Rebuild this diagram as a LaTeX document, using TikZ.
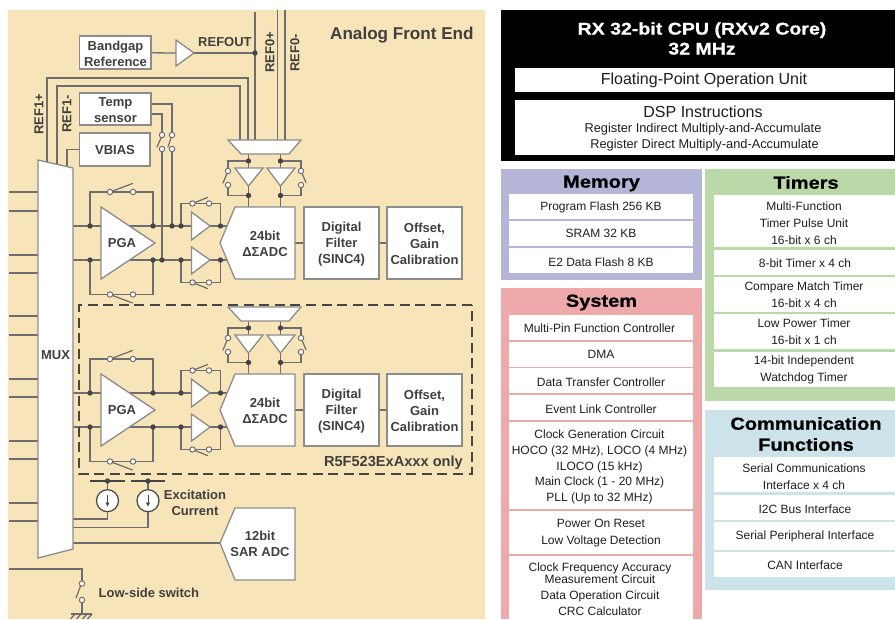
\documentclass[tikz,border=0pt]{standalone}
\usepackage{fontspec}
\setmainfont{Liberation Sans}
\newfontfamily\ttl[FakeStretch=1.15,FakeBold=0.8]{Liberation Sans Bold}
\usetikzlibrary{arrows.meta}
\pgfdeclarelayer{bg}\pgfdeclarelayer{wires}\pgfsetlayers{bg,wires,main}
\definecolor{beige}{HTML}{F7E4B8}
\definecolor{wirec}{HTML}{6E6E6E}
\definecolor{edgec}{HTML}{8C8C8C}
\definecolor{dotc}{HTML}{454545}
\definecolor{labc}{HTML}{404040}
\definecolor{memc}{HTML}{B5B5D8}
\definecolor{sysc}{HTML}{EEAAAA}
\definecolor{timc}{HTML}{BBD8A9}
\definecolor{comc}{HTML}{CCE3EA}
\newcommand\fsz[1]{\fontsize{#1}{#1}\selectfont}
\tikzset{
  wire/.style={draw=wirec,line width=1.3pt},
  blade/.style={draw=wirec,line width=1.2pt,line cap=round},
  shp/.style={draw=edgec,fill=white,line width=1.3pt,line join=miter},
  lab/.style={text=labc,font=\fsz{13}\bfseries,align=center,inner sep=0pt},
  jn/.style={circle,fill=dotc,inner sep=0pt,minimum size=5.4pt},
  sw/.style={circle,draw=wirec,fill=white,line width=1pt,inner sep=0pt,minimum size=5.4pt},
  ptxt/.style={text=black!88,font=\fsz{12},align=center,inner sep=0pt},
  ttxt/.style={text=black,font=\ttl\fsz{17.4},align=center,inner sep=0pt},
}
% named rectangle from corners
\newcommand\rectnode[7][]{%
  \pgfmathsetmacro\rw{#5-#3}\pgfmathsetmacro\rh{#6-#4}%
  \pgfmathsetmacro\rcx{(#3+#5)/2}\pgfmathsetmacro\rcy{(#4+#6)/2}%
  \node[inner sep=0pt,outer sep=0pt,minimum width=\rw pt,minimum height=\rh pt,#1] (#2) at (\rcx,\rcy) {#7};}
% white panel cell with a text at its own position
\newcommand\cell[8]{%
  \rectnode[fill=white]{#1}{#2}{#3}{#4}{#5}{}%
  \node[ptxt] (#1t) at (#6,#7) {#8};}
% one ADC channel
\newcommand\adcchannel[2]{%
\begin{scope}[shift={(0,#2)}]
  % junctions
  \node[jn] (#1ja) at (90,226) {}; \node[jn] (#1jb) at (153,226) {}; \node[jn] (#1jc) at (181,226) {}; \node[jn] (#1jd) at (220.5,226) {};
  \node[jn] (#1je) at (90,260) {}; \node[jn] (#1jf) at (153,260) {}; \node[jn] (#1jg) at (181,260) {}; \node[jn] (#1jh) at (220.5,260) {};
  \node[jn] (#1ji) at (248.5,161) {}; \node[jn] (#1jj) at (280.5,161) {}; \node[jn] (#1jk) at (248.5,195.5) {}; \node[jn] (#1jl) at (280.5,195.5) {};
  % switch contacts
  \node[sw] (#1s1) at (110,192) {}; \node[sw] (#1s2) at (133,192) {};
  \node[sw] (#1s3) at (110,294.5) {}; \node[sw] (#1s4) at (133,294.5) {};
  \node[sw] (#1s5) at (192.5,203.5) {}; \node[sw] (#1s6) at (209,203.5) {};
  \node[sw] (#1s7) at (192.5,282.5) {}; \node[sw] (#1s8) at (209,282.5) {};
  \node[sw] (#1s9) at (228,171) {}; \node[sw] (#1s10) at (228,185) {};
  \node[sw] (#1s11) at (301,171) {}; \node[sw] (#1s12) at (301,185) {};
  % wire ends
  \coordinate (#1mi) at (73,226); \coordinate (#1mj) at (73,260);
  \coordinate (#1ai) at (229,226); \coordinate (#1aj) at (229,260);
  \coordinate (#1at) at (248.5,207); \coordinate (#1au) at (280.5,207);
  \coordinate (#1mt) at (248.5,154); \coordinate (#1mu) at (280.5,154);
  % shapes
  \draw[shp] (228,140) -- (301,140) -- (289,154) -- (241,154) -- cycle;
  \draw[shp] (101,207) -- (101,279) -- (155,243) -- cycle;
  \draw[shp] (191.5,212) -- (191.5,240) -- (210,226) -- cycle;
  \draw[shp] (191.5,247) -- (191.5,274) -- (210,260) -- cycle;
  \draw[shp] (235,168) -- (263,168) -- (248.5,186) -- cycle;
  \draw[shp] (267,168) -- (295,168) -- (280.5,186) -- cycle;
  \draw[shp] (235,207) -- (295,207) -- (295,279) -- (235,279) -- (220,243) -- cycle;
  \node[lab] (#1pga) at (122,243.5) {PGA};
  \node[lab] (#1adc) at (265,243.5) {24bit\\[3pt]ΔΣADC};
  \coordinate (#1ao) at (295,243);
  \rectnode[shp]{#1fil}{304}{207}{379}{279}{}
  \rectnode[shp]{#1cal}{387}{207}{462}{279}{}
  \node[lab] (#1filt) at (341.5,244) {Digital\\[3pt]Filter\\[3pt](SINC4)};
  \node[lab] (#1calt) at (424.5,244) {Offset,\\[3pt]Gain\\[3pt]Calibration};
  % wires
  \begin{pgfonlayer}{wires}
    \draw[wire] (#1mi) -- (#1ai);
    \draw[wire] (#1mj) -- (#1aj);
    \draw[wire] (#1ja.center) |- (#1s1.center) -- (#1s2.center) -| (#1jb.center);
    \draw[wire] (#1je.center) |- (#1s3.center) -- (#1s4.center) -| (#1jf.center);
    \draw[wire] (#1jc.center) |- (#1s5.center) -- (#1s6.center) -| (#1jd.center);
    \draw[wire] (#1jg.center) |- (#1s7.center) -- (#1s8.center) -| (#1jh.center);
    \draw[wire] (#1mt) -- (#1at);
    \draw[wire] (#1mu) -- (#1au);
    \draw[wire] (#1ji.center) -| (#1s9.center);
    \draw[wire] (#1s10.center) |- (#1jk.center);
    \draw[wire] (#1jj.center) -| (#1s11.center);
    \draw[wire] (#1s12.center) |- (#1jl.center);
    \draw[wire] (#1ao) -- (#1fil);
    \draw[wire] (#1fil) -- (#1cal);
  \end{pgfonlayer}
  % blades
  \draw[blade] (#1s1) -- (132.5,183.5);
  \draw[blade] (#1s3) -- (132.5,303);
  \draw[blade] (#1s5) -- (207.5,197.5);
  \draw[blade] (#1s7) -- (207.5,288.5);
  \draw[blade] (#1s9) -- (223,183);
  \draw[blade] (#1s11) -- (306,182.5);
\end{scope}}
\begin{document}
\begin{tikzpicture}[x=1pt,y=-1pt]
\useasboundingbox (0,0) rectangle (895,619);
\begin{pgfonlayer}{bg}
  \fill[beige] (8,10) rectangle (485,619);
\end{pgfonlayer}
% ---------- Analog front end ----------
\node[text=labc,font=\fsz{17.1}\bfseries,inner sep=0pt,anchor=west] (afe) at (330,35.5) {Analog Front End};
\rectnode[shp]{bgr}{79.5}{36}{151}{69}{}
\node[lab] (bgrt) at (115.5,54) {Bandgap\\[3pt]Reference};
\draw[shp] (176,40) -- (176,66) -- (194,53) -- cycle;
\coordinate (bufin) at (176,53); \coordinate (bufout) at (194,53);
\node[jn] (jout) at (255,53) {};
\node[lab,anchor=west] (refout) at (198,42.5) {REFOUT};
\coordinate (rt0) at (255,12); \coordinate (rb0) at (255,140);
\coordinate (rt1) at (277.5,10); \coordinate (rb1) at (277.5,140);
\coordinate (rt2) at (285,10); \coordinate (rb2) at (285,140);
\node[lab,rotate=90,anchor=west] (ref0p) at (270,73) {REF0+};
\node[lab,rotate=90,anchor=west] (ref0m) at (295,72) {REF0-};
\node[lab,rotate=90,anchor=west] (ref1p) at (39,135) {REF1+};
\node[lab,rotate=90,anchor=west] (ref1m) at (67,133) {REF1-};
\rectnode[shp]{temp}{79.5}{93}{151}{125}{}
\node[lab] (tempt) at (115.5,110) {Temp\\[3pt]sensor};
\rectnode[shp]{vbias}{79.5}{133}{150}{166}{}
\node[lab] (vbiast) at (115,150) {VBIAS};
\draw[shp] (38,160) -- (73,168) -- (73,549) -- (38,558) -- cycle;
\node[lab] (mux) at (55.5,355.5) {MUX};

\adcchannel{u}{0}
\adcchannel{l}{167}

% sensor switches
\node[sw] (ta) at (162,135) {}; \node[sw] (tb) at (162,149) {};
\node[sw] (tc) at (172,135) {}; \node[sw] (td) at (172,149) {};
\node[jn] (te) at (172,226) {}; \node[jn] (tf) at (162,260) {};
\draw[blade] (157,147) -- (161,138);
\draw[blade] (168,147) -- (171,138);
\begin{pgfonlayer}{wires}
  \draw[wire] (bgr) -- (bufin);
  \draw[wire] (bufout) -- (jout.center);
  \draw[wire] (rt0) -- (rb0);
  \draw[wire] (rt1) -- (rb1);
  \draw[wire] (rt2) -- (rb2);
  \draw[wire] (47,162) |- (248,78) -- (248,140);
  \draw[wire] (57,165) |- (240,86) -- (240,140);
  \draw[wire] (vbias.west) -| (67,168);
  \draw[wire] (151,104) -| (tc.center);
  \draw[wire] (151,114) -| (ta.center);
  \draw[wire] (td.center) -- (te.center);
  \draw[wire] (tb.center) -- (tf.center);
\end{pgfonlayer}
% inputs to MUX
\foreach \yy [count=\ii] in {192,211,255,273,316,335,379,397,441,459,503,521}{
  \coordinate (pin\ii) at (9,\yy); \coordinate (mpin\ii) at (38,\yy);
  \begin{pgfonlayer}{wires}\draw[wire] (pin\ii) -- (mpin\ii);\end{pgfonlayer}
}
% dashed frame
\draw[draw=dotc,line width=1.6pt,dash pattern=on 10pt off 5.6pt] (472,305) -- (79,305) -- (79,474) -- (472,474) -- cycle;
\node[lab,anchor=east,font=\fsz{14.6}\bfseries] (only) at (463,462.5) {R5F523ExAxxx only};
% excitation current
\coordinate (ba) at (90,481); \coordinate (bb) at (125,481);
\coordinate (bc) at (131,481); \coordinate (bd) at (165,481);
\draw[draw=dotc,line width=1.2pt] (ba) -- (bb);
\draw[draw=dotc,line width=1.2pt] (bc) -- (bd);
\node[jn] (ja) at (107.5,481) {}; \node[jn] (jb) at (148,481) {};
\node[circle,draw=dotc,fill=white,line width=1.2pt,inner sep=0pt,minimum size=22pt] (ia) at (107.5,500.7) {};
\node[circle,draw=dotc,fill=white,line width=1.2pt,inner sep=0pt,minimum size=22pt] (ib) at (148,500.7) {};
\draw[draw=dotc,line width=1pt,-{Latex[length=4.5pt,width=4.5pt]}] (107.5,494.5) -- (107.5,507);
\draw[draw=dotc,line width=1pt,-{Latex[length=4.5pt,width=4.5pt]}] (148,494.5) -- (148,507);
\coordinate (ma) at (73,519); \coordinate (mb) at (73,527.7);
\begin{pgfonlayer}{wires}
  \draw[wire] (ja.center) -- (ia);
  \draw[wire] (jb.center) -- (ib);
  \draw[wire] (ia.south) |- (ma);
  \draw[wire] (ib.south) |- (mb);
\end{pgfonlayer}
\node[lab] (exc) at (195,503) {Excitation\\[3pt]Current};
% SAR ADC
\draw[shp] (235,508) -- (295,508) -- (295,580) -- (235,580) -- (220,543) -- cycle;
\coordinate (sarin) at (220,543); \coordinate (sarout) at (73,543);
\begin{pgfonlayer}{wires}\draw[wire] (sarout) -- (sarin);\end{pgfonlayer}
\node[lab] (sar) at (260,543.5) {12bit\\[3pt]SAR ADC};
% low-side switch
\node[sw] (lsa) at (82,583.5) {}; \node[sw] (lsb) at (82,600) {};
\coordinate (lsp) at (9,569); \coordinate (gnd) at (82,614);
\begin{pgfonlayer}{wires}
  \draw[wire] (lsp) -| (lsa.center);
  \draw[wire] (lsb.center) -- (gnd);
\end{pgfonlayer}
\draw[blade] (76,598) -- (80.5,586);
\draw[wire] (70.5,614) -- (92,614);
\foreach \xx in {75,81,87,92}{\draw[wire] (\xx,614) -- (\xx-4.5,619);}
\node[lab,anchor=west] (lss) at (98.5,593) {Low-side switch};

% ---------- CPU ----------
\fill[black] (501,10) rectangle (895,161);
\node[text=white,font=\ttl\fsz{17},align=center,inner sep=0pt] (cpu) at (702,38.5) {RX 32-bit CPU (RXv2 Core)\\[3pt]32 MHz};
\rectnode[fill=white]{fpu}{515}{68}{894}{92}{}
\node[text=black!88,font=\fsz{16},inner sep=0pt] (fput) at (704,80.5) {Floating-Point Operation Unit};
\rectnode[fill=white]{dsp}{515}{100}{894}{155}{}
\node[text=black!88,font=\fsz{16},inner sep=0pt] (dspa) at (703,111.5) {DSP Instructions};
\node[ptxt,font=\fsz{12.8}] (dspb) at (703,129) {Register Indirect Multiply-and-Accumulate};
\node[ptxt,font=\fsz{12.8}] (dspc) at (704.5,145) {Register Direct Multiply-and-Accumulate};
% ---------- Memory ----------
\rectnode[fill=memc]{mem}{501}{169}{702}{280}{}
\node[ttxt] (memt) at (601.5,183.5) {Memory};
\cell{ma1}{509}{194}{693}{219}{601}{207}{Program Flash 256 KB}
\cell{ma2}{509}{221}{693}{246}{601}{233}{SRAM 32 KB}
\cell{ma3}{509}{248}{693}{273}{601}{262}{E2 Data Flash 8 KB}
% ---------- System ----------
\rectnode[fill=sysc]{sys}{501}{288}{702}{619}{}
\node[ttxt] (syst) at (601.5,302.5) {System};
\cell{sy1}{509}{315}{693}{340}{599.5}{328.5}{Multi-Pin Function Controller}
\cell{sy2}{509}{342}{693}{367}{601}{354.5}{DMA}
\cell{sy3}{509}{368}{693}{393}{601}{382.5}{Data Transfer Controller}
\cell{sy4}{509}{395}{693}{420}{601}{409.5}{Event Link Controller}
\cell{sy5}{509}{422}{693}{509}{599.5}{467}{Clock Generation Circuit\\[3.6pt]HOCO (32 MHz), LOCO (4 MHz)\\[3.6pt]ILOCO (15 kHz)\\[3.6pt]Main Clock (1 - 20 MHz)\\[3.6pt]PLL (Up to 32 MHz)}
\cell{sy6}{509}{511}{693}{554}{601}{533}{Power On Reset\\[5pt]Low Voltage Detection}
\cell{sy7}{509}{556}{693}{619}{600}{589.5}{Clock Frequency Accuracy\\[.2pt]Measurement Circuit\\[4pt]Data Operation Circuit\\[4pt]CRC Calculator}
% ---------- Timers ----------
\rectnode[fill=timc]{tim}{705}{169}{895}{401}{}
\node[ttxt] (timt) at (806,182.5) {Timers};
\cell{ti1}{714}{195}{895}{247}{804}{223.5}{Multi-Function\\[5pt]Timer Pulse Unit\\[5pt]16-bit x 6 ch}
\cell{ti2}{714}{250}{895}{275}{805}{263.5}{8-bit Timer x 4 ch}
\cell{ti3}{714}{277}{895}{312}{804}{295}{Compare Match Timer\\[5pt]16-bit x 4 ch}
\cell{ti4}{714}{314}{895}{349}{804}{332}{Low Power Timer\\[5pt]16-bit x 1 ch}
\cell{ti5}{714}{352}{895}{387}{804}{370}{14-bit Independent\\[5pt]Watchdog Timer}
% ---------- Communication ----------
\rectnode[fill=comc]{com}{705}{410}{895}{590}{}
\node[ttxt] (comt) at (806,434) {Communication\\[3.6pt]Functions};
\cell{co1}{714}{457}{895}{492}{804}{477}{Serial Communications\\[5pt]Interface x 4 ch}
\cell{co2}{714}{495}{895}{520}{805}{509.5}{I2C Bus Interface}
\cell{co3}{714}{522}{895}{550}{805}{536.5}{Serial Peripheral Interface}
\cell{co4}{714}{552}{895}{577}{805}{565.5}{CAN Interface}
\end{tikzpicture}
\end{document}
